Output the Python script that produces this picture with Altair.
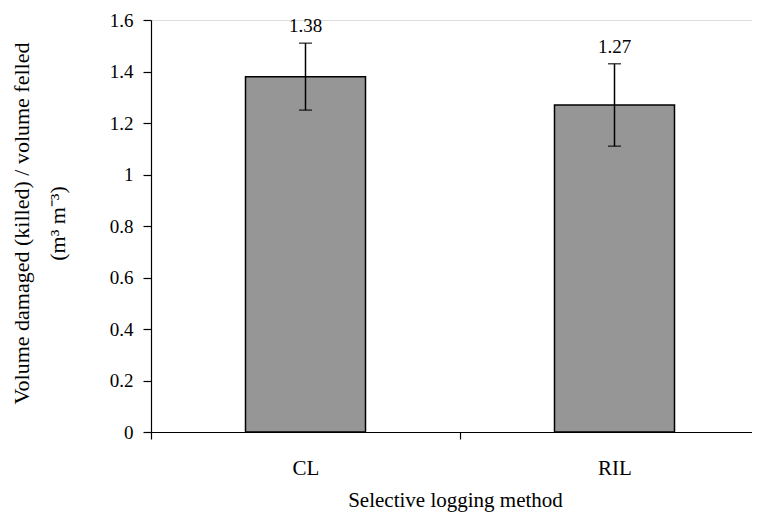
import altair as alt
import pandas as pd

methods = ["CL", "RIL"]
means = [1.38, 1.27]
err_low = [1.25, 1.11]
err_high = [1.51, 1.43]
value_labels = ["1.38", "1.27"]

df = pd.DataFrame({
    "method": methods,
    "mean": means,
    "lo": err_low,
    "hi": err_high,
    "label": value_labels,
})

FONT = "Liberation Serif"

x_enc = alt.X(
    "method:N",
    sort=methods,
    scale=alt.Scale(range=[0, 618], paddingInner=0, paddingOuter=0),
    axis=alt.Axis(
        title="Selective logging method",
        labelAngle=0,
        tickBand="extent",
        tickSize=7,
        tickColor="black",
        tickWidth=1.2,
        domainColor="black",
        domainWidth=1.2,
        labelFont=FONT,
        labelFontSize=21,
        labelColor="black",
        labelPadding=18,
        titleFont=FONT,
        titleFontSize=21,
        titleFontWeight="normal",
        titleColor="black",
        titleBaseline="alphabetic",
        titleAnchor="middle",
        titleX=304,
        titleY=74,
        grid=False,
    ),
)

y_scale = alt.Scale(domain=[0, 1.6], nice=False, zero=True)
y_axis = alt.Axis(
    title=["Volume damaged (killed) / volume felled", "(m³ m⁻³)"],
    values=[0, 0.2, 0.4, 0.6, 0.8, 1.0, 1.2, 1.4, 1.6],
    format=".1~f",
    tickSize=8,
    tickColor="black",
    tickWidth=1.2,
    domainColor="black",
    domainWidth=1.2,
    labelFont=FONT,
    labelFontSize=19,
    labelColor="black",
    labelPadding=10,
    titleFont=FONT,
    titleFontSize=22,
    titleFontWeight="normal",
    titleColor="black",
    titleAngle=-90,
    titleAlign="center",
    titleBaseline="alphabetic",
    titleLineHeight=36,
    titleX=-123,
    titleY=203,
    grid=False,
)

base = alt.Chart(df)

bars = base.mark_bar(size=120, fill="#969696", stroke="black", strokeWidth=1.5).encode(
    x=x_enc,
    y=alt.Y("mean:Q", scale=y_scale, axis=y_axis),
)

rule = base.mark_rule(color="black", strokeWidth=1.5).encode(
    x=alt.X("method:N", sort=methods),
    y="lo:Q",
    y2="hi:Q",
)

cap_lo = base.mark_tick(color="black", size=13, thickness=1.5, orient="horizontal").encode(
    x=alt.X("method:N", sort=methods),
    y="lo:Q",
)
cap_hi = base.mark_tick(color="black", size=13, thickness=1.5, orient="horizontal").encode(
    x=alt.X("method:N", sort=methods),
    y="hi:Q",
)

text = base.mark_text(dy=-11, baseline="alphabetic", align="center", font=FONT, fontSize=19, color="black").encode(
    x=alt.X("method:N", sort=methods),
    y="hi:Q",
    text="label:N",
)

chart = alt.layer(bars, rule, cap_lo, cap_hi, text).properties(
    width=601,
    height=412,
    autosize=alt.AutoSizeParams(type="none"),
    padding={"left": 143, "top": 12, "right": 0, "bottom": 81},
).configure_view(stroke=None).configure(background="white")

chart.save("out.html", embed_options={"renderer": "svg", "actions": False})
